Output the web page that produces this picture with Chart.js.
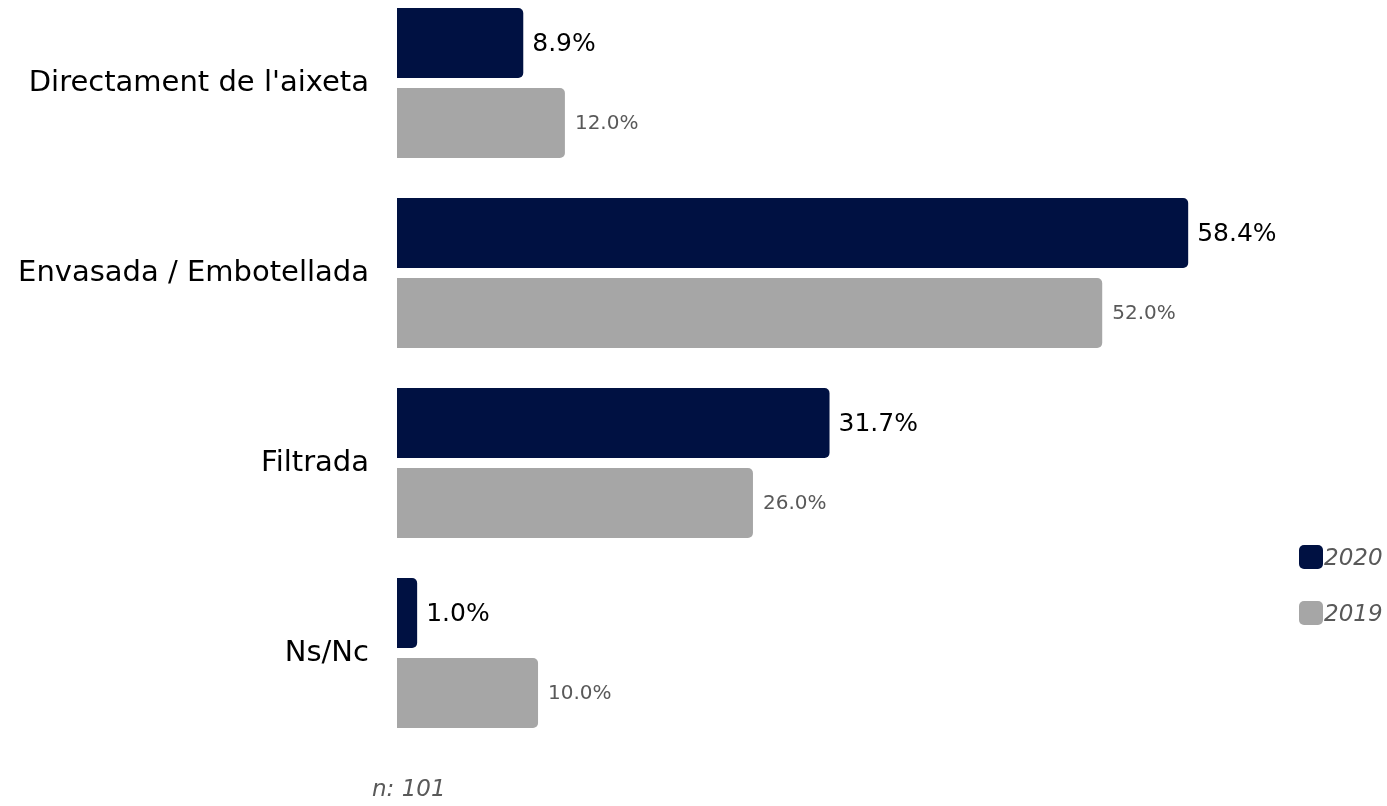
<!DOCTYPE html>
<html>
<head>
<meta charset="utf-8">
<script src="https://cdn.jsdelivr.net/npm/chart.js@4.4.1/dist/chart.umd.min.js"></script>
<style>
  html, body { margin: 0; padding: 0; background: #ffffff; }
  #wrap { position: relative; width: 1387px; height: 806px; }
  #c { position: absolute; left: 0; top: 0; }
  .leg { position: absolute; left: 1299px; height: 24px; font-family: 'DejaVu Sans', sans-serif; font-style: italic; font-size: 23px; line-height: 24px; color: #595959; display: flex; align-items: center; }
  .leg span.box { display: inline-block; width: 24px; height: 24px; border-radius: 5px; margin-right: 1px; }
  #foot { position: absolute; left: 372px; top: 777px; font-family: 'DejaVu Sans', sans-serif; font-style: italic; font-size: 23px; line-height: 1; color: #595959; }
</style>
</head>
<body>
<div id="wrap">
  <canvas id="c" width="1387" height="806"></canvas>
  <div id="legend"></div>
  <div id="foot">n: 101</div>
</div>
<script>
const categories = ["Directament de l'aixeta", "Envasada / Embotellada", "Filtrada", "Ns/Nc"];
const seriesNames = ["2020", "2019"];
const values2020 = [8.9, 58.4, 31.7, 1.0];
const values2019 = [12.0, 52.0, 26.0, 10.0];
const colors = ["#001142", "#a6a6a6"];
const labelColors = ["#000000", "#595959"];
const labelSizes = [25, 20];
const FONT = "'DejaVu Sans', sans-serif";

const valueLabels = {
  id: 'valueLabels',
  afterDatasetsDraw(chart) {
    const ctx = chart.ctx;
    chart.data.datasets.forEach((ds, di) => {
      const meta = chart.getDatasetMeta(di);
      meta.data.forEach((bar, i) => {
        const v = ds.data[i];
        ctx.save();
        ctx.font = labelSizes[di] + 'px ' + FONT;
        ctx.fillStyle = labelColors[di];
        ctx.textAlign = 'left';
        ctx.textBaseline = 'middle';
        ctx.fillText(v.toFixed(1) + '%', bar.x + (di === 0 ? 9 : 10), bar.y + 1);
        ctx.restore();
      });
    });
  }
};

new Chart(document.getElementById('c'), {
  type: 'bar',
  data: {
    labels: categories,
    datasets: [
      { label: seriesNames[0], data: values2020, backgroundColor: colors[0] },
      { label: seriesNames[1], data: values2019, backgroundColor: colors[1] }
    ]
  },
  options: {
    indexAxis: 'y',
    responsive: false,
    animation: false,
    layout: { padding: { top: 83, bottom: 153, left: 0, right: 43 } },
    datasets: {
      bar: {
        base: -0.5,
        clip: false,
        borderRadius: 5,
        borderSkipped: 'start',
        categoryPercentage: 160 / 190,
        barPercentage: 0.875
      }
    },
    scales: {
      x: { display: false, min: -0.5, max: 70 },
      y: {
        offset: false,
        grid: { display: false },
        border: { display: false },
        afterFit(scale) { scale.width = 397; },
        ticks: { padding: 20, color: '#000000', font: { family: FONT, size: 29 } }
      }
    },
    plugins: { legend: { display: false }, tooltip: { enabled: false } }
  },
  plugins: [valueLabels]
});

const leg = document.getElementById('legend');
const legTops = [545, 601];
seriesNames.forEach((n, i) => {
  const d = document.createElement('div');
  d.className = 'leg';
  d.style.top = legTops[i] + 'px';
  d.innerHTML = '<span class="box" style="background:' + colors[i] + '"></span>' + n;
  leg.appendChild(d);
});
</script>
</body>
</html>
